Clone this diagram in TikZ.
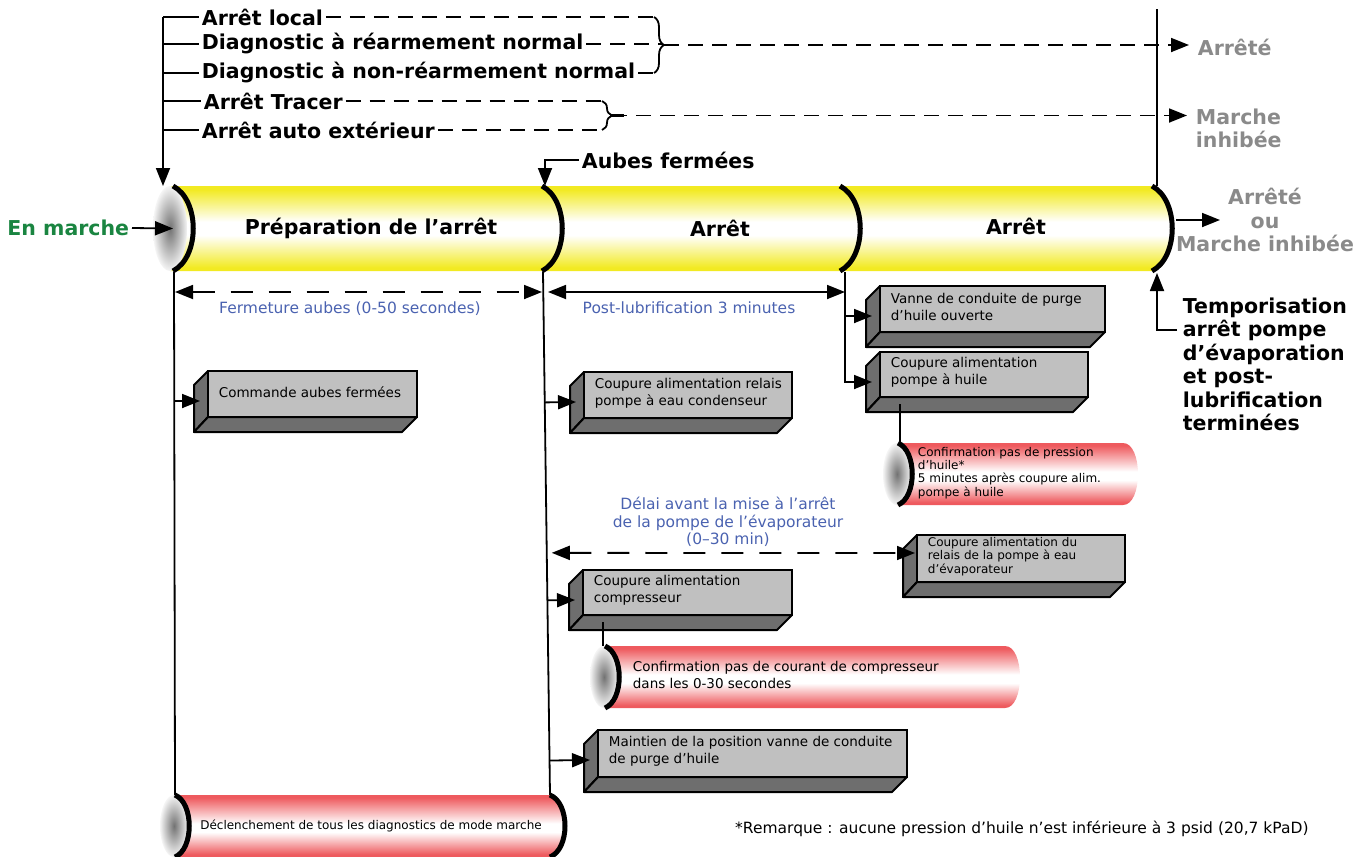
\documentclass[tikz,border=0pt]{standalone}
\usepackage{fontspec}
\setmainfont{DejaVu Sans}
\usepackage{tikz}
\usetikzlibrary{arrows.meta,calc,decorations.pathreplacing}

\definecolor{tubeY}{HTML}{F2EA22}
\definecolor{tubeR}{HTML}{EE5A5E}
\definecolor{faceL}{HTML}{C0C0C0}
\definecolor{faceD}{HTML}{6E6E6E}
\definecolor{noteblue}{HTML}{4A62B0}
\definecolor{rungreen}{HTML}{1A8541}
\definecolor{stategray}{HTML}{8A8A8A}

\pgfdeclareverticalshading{yeltube}{100bp}{color(0bp)=(tubeY); color(27bp)=(tubeY); color(46bp)=(white); color(54bp)=(white); color(73bp)=(tubeY); color(100bp)=(tubeY)}
\pgfdeclareverticalshading{redtube}{100bp}{color(0bp)=(tubeR); color(27bp)=(tubeR); color(45bp)=(white); color(52bp)=(white); color(73bp)=(tubeR); color(100bp)=(tubeR)}

\tikzset{
  hd/.style={font=\bfseries\fontsize{20.5}{23.5}\selectfont, inner sep=2pt},
  txt/.style={font=\fontsize{13.5}{17}\selectfont, align=left, inner sep=1pt},
  small/.style={font=\fontsize{12}{13.4}\selectfont, align=left, inner sep=1pt},
  dim/.style={text=noteblue, font=\fontsize{15.5}{17.5}\selectfont, align=center, inner sep=1pt},
  stlabel/.style={hd, text=stategray},
  tip/.style={-{Triangle[length=18pt,width=14pt]}},
  twoway/.style={{Triangle[length=18pt,width=14pt]}-{Triangle[length=18pt,width=14pt]}},
  shortdash/.style={dash pattern=on 15pt off 9pt},
  widegap/.style={dash pattern=on 22pt off 16pt},
  rim/.style={line width=5pt},
  endcap/.style={shading=radial, inner color=black!55, outer color=black!4},
  bracket/.style={decorate, decoration={brace, amplitude=10pt}},
}

\newcommand\blok[7][txt]{%
  \filldraw[fill=faceD, line width=2pt, line join=round] (#3,#4) -- (#3-14,#4+14) -- (#3-14,#6+15) -- (#3,#6) -- cycle;
  \filldraw[fill=faceD, line width=2pt, line join=round] (#3,#6) -- (#5,#6) -- (#5-15,#6+15) -- (#3-14,#6+15) -- cycle;
  \filldraw[fill=faceL, line width=2pt] (#3,#4) rectangle (#5,#6);
  \node[#1, anchor=west] (#2) at (#3+9,{(#4+#6)/2-2}) {#7};
  \coordinate (#2-in) at (#3-8,#4+30);
  \coordinate (#2-dn) at (#3+20,#6+7);
}

\newcommand\tube[5]{%
  \path[shading=redtube] (#2,#3) -- (#4-15,#3) .. controls (#4+5,#3) and (#4+5,#5) .. (#4-15,#5) -- (#2,#5) -- cycle;
  \path[endcap] (#2,{(#3+#5)/2}) ellipse [x radius=14, y radius={(#5-#3)/2}];
  \draw[rim] (#2+1,#3) .. controls (#2+20,#3+8) and (#2+20,#5-8) .. (#2+1,#5);
  \coordinate (#1) at (#2+1,#3);
}

\begin{document}
\begin{tikzpicture}[x=1pt, y=-1pt, line width=1.8pt]
\useasboundingbox (0,0) rectangle (1366,857);

\path[shading=yeltube] (170,186) -- (1152,186) .. controls (1179,200) and (1179,257) .. (1152,271) -- (170,271) -- cycle;
\path[endcap] (170,228.5) ellipse [x radius=17, y radius=42.5];
\foreach \x in {173,542,840,1152}
  \draw[rim] (\x,186) .. controls (\x+27,200) and (\x+27,257) .. (\x,271);

\node[hd] (prep) at (371,228) {Préparation de l’arrêt};
\node[hd] (stopA) at (720,228) {Arrêt};
\node[hd] (stopB) at (1016,226) {Arrêt};

\node[hd, anchor=west] (stopLocal) at (199,17) {Arrêt local};
\node[hd, anchor=west] (diagRst) at (199,44) {Diagnostic à réarmement normal};
\node[hd, anchor=west] (diagNoRst) at (199,73) {Diagnostic à non-réarmement normal};
\node[hd, anchor=west] (stopTracer) at (201,101) {Arrêt Tracer};
\node[hd, anchor=west] (stopExt) at (199,130) {Arrêt auto extérieur};

\coordinate (spineTop) at (163,17);
\coordinate (spineEnd) at (163,186);
\draw[tip] (spineTop) -- (spineEnd);
\foreach \n in {stopLocal,diagRst,diagNoRst,stopTracer,stopExt}
  \draw (spineTop |- \n.west) -- (\n.west);

\node[stlabel, anchor=west] (stopped) at (1195,47) {Arrêté};
\node[stlabel, anchor=west, align=left] (inhibit) at (1193,128.5) {Marche\\inhibée};

\draw[shortdash] (stopLocal.east) -- (654,17);
\draw[shortdash] (diagRst.east) -- (663,44);
\draw[shortdash] (diagNoRst.east) -- (654,73);
\draw[bracket] (654,17) -- (654,73);
\coordinate (fork1) at (664,45);
\draw[line width=2.5pt] (fork1) -- ++(12,0);
\draw[shortdash, tip, shorten >=6pt] (fork1) -- (fork1 -| stopped.west);

\draw[shortdash] (stopTracer.east) -- (602,101);
\draw[shortdash] (stopExt.east) -- (602,130);
\draw[bracket] (602,101) -- (602,130);
\coordinate (fork2) at (612,115.5);
\draw[line width=2.5pt] (fork2) -- ++(12,0);
\draw[shortdash, tip, shorten >=6pt] (fork2) -- (fork2 -| inhibit.west);

\coordinate (railTop) at (1157,9);
\coordinate (railEnd) at (1157,186);
\draw (railTop) -- (railEnd);

\node[stlabel, align=center] (endState) at (1265,220) {Arrêté\\ou\\Marche inhibée};
\coordinate (endOut) at (1176,220);
\coordinate (endTip) at (1220,220);
\draw[tip] (endOut) -- (endTip);

\node[hd, align=left, anchor=north west] (tempo) at (1180,295) {Temporisation\\arrêt pompe\\d’évaporation\\et post-\\lubrification\\terminées};
\coordinate (tempoFoot) at (1177,330);
\coordinate (tempoIn) at (1157,273);
\draw[tip] (tempoFoot) -| (tempoIn);

\node[hd, text=rungreen, anchor=east] (running) at (132,228) {En marche};
\coordinate (capMid) at (173,228.5);
\draw[tip] (running.east) -- (capMid);

\node[hd, anchor=west] (vanesShut) at (579,160) {Aubes fermées};
\coordinate (seg2Top) at (545,186);
\draw[tip] (vanesShut.west) -| (seg2Top);

\coordinate (phase1L) at (175,292);
\coordinate (phase1R) at (542,292);
\coordinate (phase2L) at (548,292);
\coordinate (phase2R) at (845,292);
\draw[widegap, twoway] (phase1L) -- (phase1R);
\draw[twoway] (phase2L) -- (phase2R);
\node[dim] at (350,309) {Fermeture aubes (0-50 secondes)};
\node[dim] at (689,308) {Post-lubrification 3 minutes};

\coordinate (drop1) at (174,272);
\coordinate (drop2) at (543,272);
\coordinate (drop3) at (845,272);

\tube{diagTube}{174}{795}{565}{857}
\draw[rim] (550,795) .. controls (570,803) and (570,849) .. (550,857);
\coordinate (diagTubeR) at (550,795);
\node[small] at (371,826) {Déclenchement de tous les diagnostics de mode marche};

\draw (drop1) -- (diagTube);
\draw (drop2) -- (diagTubeR);

\blok{cmdVanes}{208}{371}{417}{417}{Commande aubes fermées}
\blok{cdsPump}{584}{372}{792}{418}{Coupure alimentation relais\\pompe à eau condenseur}
\blok{purgeOpen}{880}{286}{1105}{332}{Vanne de conduite de purge\\d’huile ouverte}
\blok{oilPump}{880}{352}{1088}{397}{Coupure alimentation\\pompe à huile}
\blok[small]{evpPump}{917}{535}{1125}{582}{Coupure alimentation du\\relais de la pompe à eau\\d’évaporateur}
\blok{comp}{583}{570}{792}{615}{Coupure alimentation\\compresseur}
\blok{purgeHold}{598}{730}{907}{777}{Maintien de la position vanne de conduite\\de purge d’huile}

\draw[tip] (drop1 |- cmdVanes-in) -- (cmdVanes-in);
\draw[tip] ($(drop2)!(cdsPump-in)!(diagTubeR)$) -- (cdsPump-in);
\draw[tip] ($(drop2)!(comp-in)!(diagTubeR)$) -- (comp-in);
\draw[tip] ($(drop2)!(purgeHold-in)!(diagTubeR)$) -- (purgeHold-in);
\draw[tip] (drop3) |- (oilPump-in);
\draw[tip] (drop3 |- purgeOpen-in) -- (purgeOpen-in);

\tube{oilTube}{897}{443}{1138}{505}
\tube{ampTube}{604}{646}{1020}{708}
\draw (oilPump-dn) -- (oilPump-dn |- oilTube);
\draw (comp-dn) -- (comp-dn |- ampTube);

\node[small, anchor=north west] at (916,445) {Confirmation pas de pression\\d’huile*\\5 minutes après coupure alim.\\pompe à huile};
\node[txt, anchor=west] at (631,675) {Confirmation pas de courant de compresseur\\dans les 0-30 secondes};

\node[dim] at (728,522) {Délai avant la mise à l’arrêt\\de la pompe de l’évaporateur\\(0–30 min)};
\coordinate (evpIn) at (915,553);
\coordinate (delayL) at ($(drop2)!0.537!(diagTubeR)$);
\draw[widegap, twoway, shorten <=5pt] (delayL) -- (evpIn);

\node[font=\fontsize{15.5}{17}\selectfont, anchor=west] at (731,829) {*Remarque : aucune pression d’huile n’est inférieure à 3 psid (20,7 kPaD)};
\end{tikzpicture}
\end{document}
